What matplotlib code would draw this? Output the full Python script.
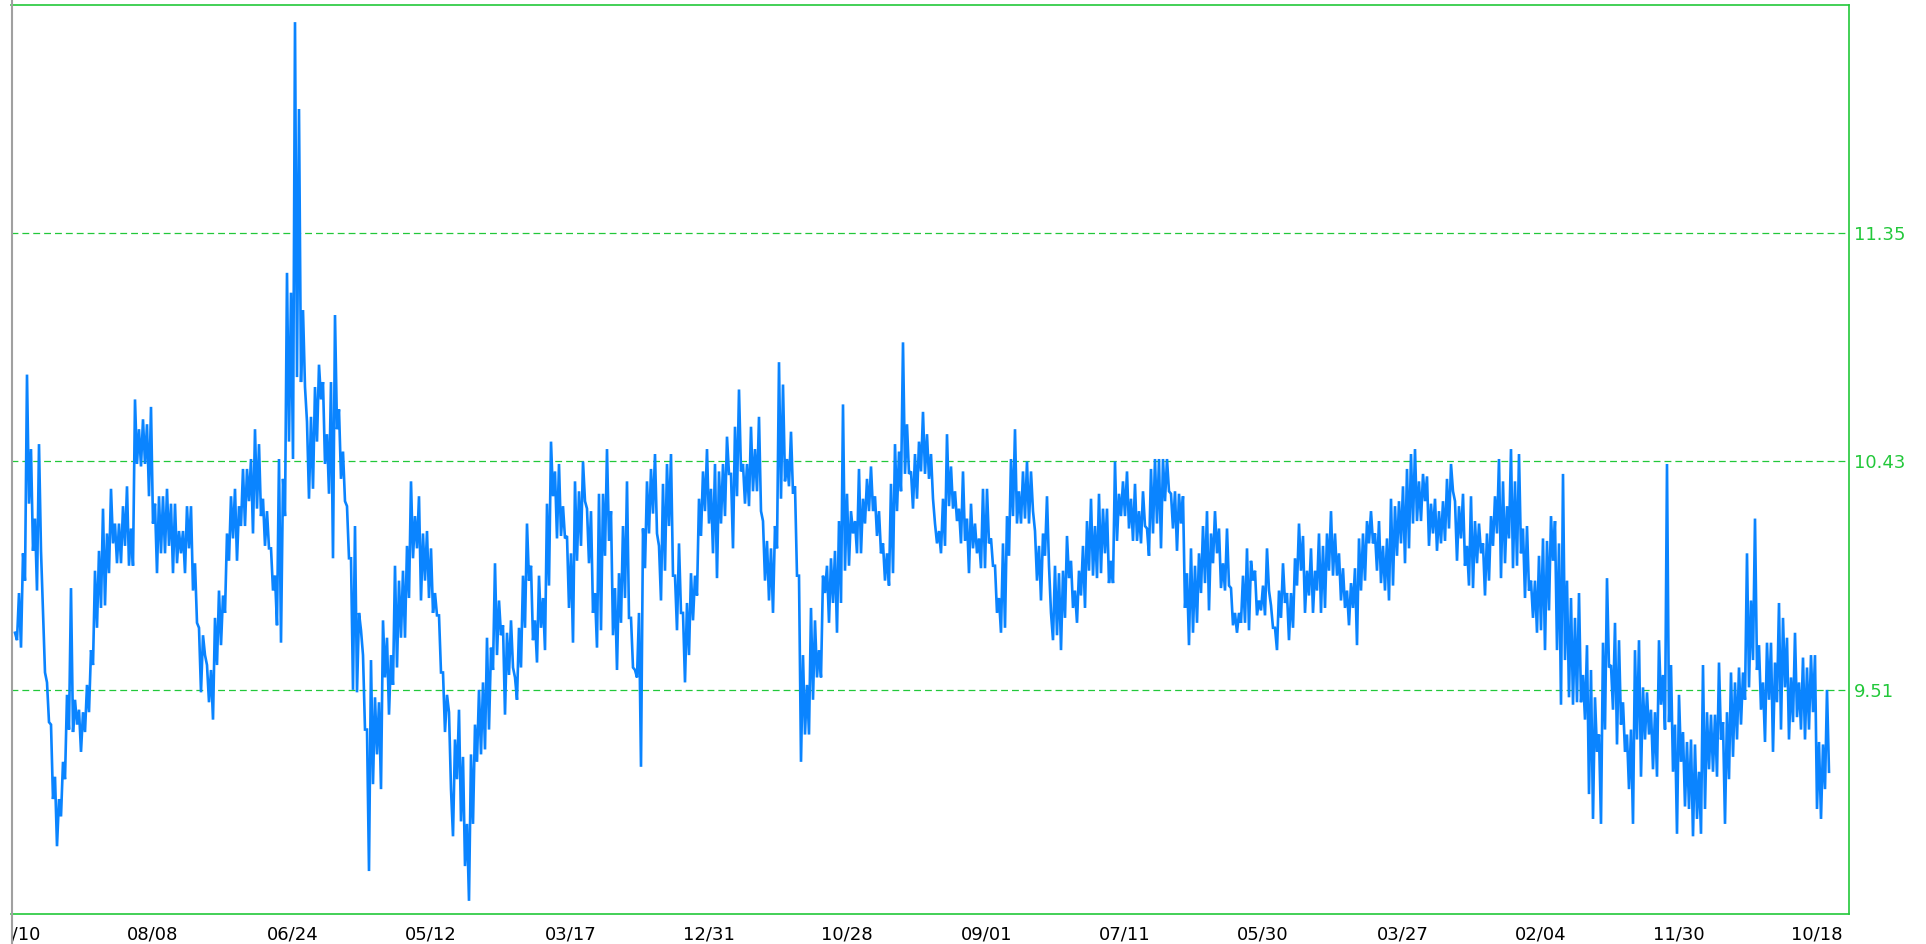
import numpy as np
import matplotlib
matplotlib.use("Agg")
import matplotlib.pyplot as plt
from matplotlib.transforms import Bbox
from matplotlib.lines import Line2D

# ---- data (each pair = high, low of a short interval) ----
values_seg1 = [
    9.74, 9.71, 9.90, 9.68, 10.06, 9.95, 10.78, 10.26, 10.48, 10.07, 10.20, 9.91, 10.50, 10.07, 9.82, 9.58, 9.54, 9.38, 9.37, 9.07,
    9.16, 8.88, 9.07, 9.00, 9.22, 9.15, 9.49, 9.35, 9.92, 9.34, 9.47, 9.37, 9.43, 9.26, 9.42, 9.34, 9.53, 9.42, 9.67, 9.61,
    9.99, 9.76, 10.07, 9.84, 10.24, 9.85, 10.14, 9.98, 10.32, 10.10, 10.18, 10.02, 10.18, 10.02, 10.25, 10.09, 10.33, 10.01, 10.16, 10.01,
    10.68, 10.42, 10.56, 10.41, 10.60, 10.42, 10.58, 10.29, 10.65, 10.18, 10.26, 9.98, 10.29, 10.06, 10.29, 10.06, 10.32, 10.09, 10.26, 9.98,
    10.26, 10.02, 10.15, 10.06, 10.15, 9.98, 10.25, 10.08, 10.25, 9.91, 10.02, 9.78, 9.76, 9.50, 9.73, 9.65, 9.61, 9.46, 9.59, 9.39,
    9.80, 9.61, 9.91, 9.69, 9.89, 9.82, 10.14, 10.03, 10.29, 10.12, 10.32, 10.03, 10.25, 10.17, 10.40, 10.17, 10.40, 10.27,
]
values_seg2 = [
    10.44, 10.14, 10.56, 10.24, 10.50, 10.21, 10.28, 10.09, 10.23, 10.08, 10.08, 9.91, 9.97, 9.77, 10.44, 9.70, 10.36, 10.21, 11.19, 10.51,
    11.11, 10.44, 12.20, 10.77, 11.85, 10.75, 11.04, 10.73, 10.59, 10.28, 10.61, 10.32, 10.73, 10.51, 10.82, 10.68, 10.75, 10.42, 10.54, 10.30,
    10.75, 10.04, 11.02, 10.56, 10.64, 10.36, 10.47, 10.27, 10.25, 10.04, 10.04, 9.51, 10.17, 9.50, 9.82, 9.75, 9.65, 9.35, 9.35, 8.78,
    9.63, 9.13, 9.48, 9.25, 9.46, 9.11, 9.79, 9.56, 9.72, 9.41, 9.65, 9.53, 10.01, 9.60, 9.95, 9.72, 9.99, 9.72, 10.09, 9.88,
    10.35, 10.04, 10.21, 10.08, 10.29, 9.87, 10.14, 9.95, 10.15, 9.88, 10.08, 9.82, 9.90, 9.81, 9.81, 9.58, 9.58, 9.34, 9.49, 9.42,
    9.11, 8.92, 9.31, 9.15, 9.43, 8.98, 9.24, 8.80, 8.97, 8.66, 9.25, 8.97, 9.37, 9.22, 9.51, 9.25,
]
values_seg3 = [
    9.54, 9.27, 9.72, 9.35, 9.68, 9.59, 10.02, 9.65, 9.87, 9.73, 9.77, 9.41, 9.74, 9.57, 9.79, 9.60, 9.56, 9.47, 9.76, 9.60,
    9.97, 9.76, 10.18, 9.95, 10.01, 9.71, 9.79, 9.62, 9.97, 9.76, 9.88, 9.67, 10.26, 9.93, 10.51, 10.29, 10.39, 10.12, 10.42, 10.13,
    10.25, 10.12, 10.13, 9.84, 10.06, 9.70, 10.35, 10.03, 10.31, 10.09, 10.43, 10.27, 10.24, 10.02, 10.23, 9.82, 9.90, 9.68, 10.30, 9.75,
    10.30, 10.05, 10.48, 10.11, 10.23, 9.73, 9.92, 9.59, 9.98, 9.78, 10.17, 9.88, 10.35, 9.80, 9.80, 9.60, 9.59, 9.56, 9.82, 9.20,
    10.16, 10.00, 10.35, 10.14, 10.40, 10.22, 10.46, 10.14, 10.09, 9.87, 10.34, 9.99, 10.42, 10.17, 10.46, 9.97, 9.97, 9.75, 10.10, 9.82,
    9.82, 9.54, 9.86, 9.65, 9.98, 9.79, 9.97, 9.89, 10.28, 10.13, 10.39, 10.23, 10.48, 10.18, 10.32, 10.06, 10.42, 9.96, 10.39, 10.18,
]
values_seg4 = [
    10.42, 10.21, 10.53, 10.38, 10.38, 10.08, 10.57, 10.29, 10.72, 10.39, 10.42, 10.26, 10.42, 10.25, 10.57, 10.31, 10.48, 10.31, 10.61, 10.23,
    10.19, 9.95, 10.11, 9.87, 10.08, 9.82, 10.17, 10.08, 10.83, 10.28, 10.74, 10.35, 10.44, 10.33, 10.55, 10.30, 10.33, 9.97, 9.97, 9.22,
    9.65, 9.33, 9.53, 9.33, 9.84, 9.47, 9.79, 9.56, 9.67, 9.56, 9.97, 9.90, 10.01, 9.78, 10.04, 9.86, 10.07, 9.74, 10.19, 9.86,
    10.66, 9.99, 10.30, 10.01, 10.23, 10.14, 10.19, 10.06, 10.40, 10.06, 10.28, 10.18, 10.36, 10.23, 10.41, 10.23, 10.29, 10.13, 10.23, 10.06,
    10.10, 9.95, 10.06, 9.93, 10.34, 9.98, 10.50, 10.23, 10.47, 10.31, 10.91, 10.38, 10.58, 10.38, 10.39, 10.24, 10.46, 10.28, 10.51, 10.39,
    10.63, 10.38, 10.54, 10.36, 10.46, 10.28, 10.18, 10.10, 10.15, 10.06, 10.28, 10.09, 10.54, 10.25, 10.41, 10.24, 10.31, 10.19, 10.24, 10.10,
]
values_seg5 = [
    10.39, 10.11, 10.20, 9.98, 10.26, 10.08, 10.18, 10.06, 10.12, 10.00, 10.32, 10.00, 10.32, 10.10, 10.12, 10.01, 10.01, 9.82, 9.88, 9.74,
    10.10, 9.76, 10.21, 10.05, 10.44, 10.21, 10.56, 10.18, 10.31, 10.18, 10.39, 10.20, 10.43, 10.18, 10.39, 10.23, 10.15, 9.95, 10.09, 9.87,
    10.14, 10.05, 10.29, 10.01, 9.82, 9.71, 10.01, 9.73, 9.98, 9.67, 9.99, 9.80, 10.13, 9.96, 10.03, 9.84, 9.91, 9.78, 9.99, 9.89,
    10.09, 9.84, 10.19, 9.99, 10.28, 9.97, 10.17, 9.96, 10.30, 9.98, 10.24, 10.06, 10.24, 9.94, 10.03, 9.94, 10.43, 10.11, 10.30, 10.21,
    10.35, 10.21, 10.39, 10.16, 10.28, 10.11, 10.34, 10.11, 10.23, 10.10, 10.31, 10.17, 10.16, 10.05, 10.40, 10.14, 10.44, 10.18, 10.44, 10.08,
    10.44, 10.27, 10.44, 10.31, 10.30, 10.16, 10.31, 10.07, 10.30, 10.18, 10.29, 9.84, 9.98, 9.69, 10.08, 9.74, 10.01, 9.78, 10.06, 9.90,
]
values_seg6 = [
    10.17, 9.94, 10.23, 9.83, 10.14, 10.02, 10.23, 10.06, 10.16, 9.92, 10.02, 9.91, 10.16, 9.93, 9.92, 9.77, 9.82, 9.74, 9.82, 9.78,
    9.97, 9.78, 10.08, 9.75, 10.03, 9.95, 9.99, 9.81, 9.87, 9.83, 9.93, 9.81, 10.08, 9.91, 9.85, 9.76, 9.76, 9.67, 9.91, 9.80,
    10.02, 9.86, 9.90, 9.71, 9.90, 9.76, 10.04, 9.93, 10.18, 9.99, 10.13, 9.82, 9.99, 9.89, 10.08, 9.82, 9.99, 9.91, 10.14, 9.82,
    10.09, 9.84, 10.14, 9.99, 10.23, 9.97, 10.14, 9.97, 10.06, 9.87, 10.00, 9.84, 9.91, 9.77, 9.94, 9.84, 10.00, 9.69, 10.12, 9.91,
    10.14, 9.95, 10.19, 10.10, 10.23, 10.10, 10.14, 9.99, 10.19, 9.94, 10.09, 9.91, 10.12, 9.87, 10.28, 9.93, 10.25, 10.05, 10.27, 10.10,
    10.33, 10.02, 10.40, 10.08, 10.46, 10.18, 10.48, 10.19, 10.35, 10.19, 10.38, 10.27, 10.37, 10.09, 10.26, 10.14, 10.28, 10.07, 10.23, 10.10,
]
values_seg7 = [
    10.27, 10.11, 10.36, 10.16, 10.42, 10.31, 10.27, 10.03, 10.25, 10.12, 10.30, 10.01, 10.09, 9.93, 10.29, 9.92, 10.19, 10.02, 10.18, 10.06,
    10.10, 9.89, 10.14, 9.95, 10.21, 10.09, 10.29, 10.14, 10.44, 9.96, 10.35, 10.02, 10.25, 10.12, 10.48, 10.00, 10.35, 10.01, 10.46, 10.06,
    10.16, 9.88, 10.17, 9.91, 9.95, 9.80, 9.95, 9.74, 10.05, 9.75, 10.12, 9.67, 10.11, 9.83, 10.21, 10.03, 10.19, 9.67, 10.10, 9.45,
    10.38, 9.63, 9.95, 9.48, 9.88, 9.45, 9.80, 9.46, 9.90, 9.46, 9.57, 9.39, 9.69, 9.09, 9.59, 8.99, 9.48, 9.26, 9.33, 8.97,
    9.70, 9.35, 9.96, 9.60, 9.61, 9.43, 9.78, 9.29, 9.71, 9.37, 9.46, 9.26, 9.33, 9.11, 9.35, 8.97, 9.67, 9.31, 9.71, 9.16,
    9.52, 9.31, 9.50, 9.33, 9.43, 9.19, 9.42, 9.16, 9.71, 9.45, 9.57, 9.35, 10.42, 9.38, 9.61, 9.18, 9.37, 8.93, 9.49, 9.22,
]
values_seg8 = [
    9.34, 9.04, 9.30, 9.03, 9.31, 8.92, 9.29, 8.99, 9.18, 8.93, 9.61, 9.03, 9.42, 9.19, 9.41, 9.18, 9.41, 9.16, 9.62, 9.31,
    9.38, 8.97, 9.42, 9.15, 9.58, 9.24, 9.54, 9.31, 9.60, 9.37, 9.58, 9.47, 10.06, 9.52, 9.87, 9.63, 10.20, 9.59, 9.69, 9.43,
    9.54, 9.30, 9.70, 9.47, 9.70, 9.26, 9.62, 9.46, 9.86, 9.35, 9.80, 9.52, 9.72, 9.31, 9.56, 9.38, 9.74, 9.40, 9.54, 9.35,
    9.64, 9.31, 9.60, 9.35, 9.65, 9.42, 9.65, 9.03, 9.30, 8.99, 9.29, 9.11, 9.51, 9.18,
]

grid_levels = [9.51, 10.43, 11.35]
tick_labels = ["10/10", "08/08", "06/24", "05/12", "03/17", "12/31", "10/28",
               "09/01", "07/11", "05/30", "03/27", "02/04", "11/30", "10/18"]
tick_index = [0, 69, 139, 208, 278, 347, 416, 486, 555, 624, 694, 763, 832, 901]

# ---- drawing ----
values = np.array(values_seg1 + values_seg2 + values_seg3 + values_seg4 +
                  values_seg5 + values_seg6 + values_seg7 + values_seg8)
x = np.arange(len(values))

W, H = 1926, 944
fig = plt.figure(figsize=(W / 100, H / 100), dpi=100)
fig.patch.set_facecolor("white")
ax = fig.add_axes([11 / W, (H - 914) / H, (1849 - 11) / W, (914 - 5) / H])
ax.set_facecolor("white")

green = "#22c83a"
blue = "#0a84ff"

ax.plot(x, values, color=blue, lw=1.9, solid_joinstyle="miter", zorder=3)

ax.set_xlim(-2, 917)
ax.set_ylim(8.607, 12.269)

for lv in grid_levels:
    ax.axhline(lv, color=green, lw=0.9, linestyle=(0, (5.5, 3.2)), zorder=1)

ax.yaxis.tick_right()
ax.set_yticks(grid_levels)
ax.set_yticklabels([f"{v:.2f}" for v in grid_levels])
ax.tick_params(axis="y", length=0, pad=3.5, labelsize=13, labelcolor=green)

ax.set_xticks(tick_index)
ax.set_xticklabels(tick_labels)
ax.tick_params(axis="x", length=0, pad=8, labelsize=13, labelcolor="black")

clip = Bbox.from_extents(11, 0, W, H)
for lbl in ax.get_xticklabels():
    lbl.set_clip_box(clip)
    lbl.set_clip_on(True)

for side in ["top", "bottom", "right"]:
    ax.spines[side].set_color(green)
    ax.spines[side].set_linewidth(1.2)
ax.spines["left"].set_visible(False)
fig.add_artist(Line2D([11.5 / W, 11.5 / W], [0, 1], color="#a0a0a0", lw=1.5,
                      transform=fig.transFigure))

fig.savefig("out.png", dpi=100, facecolor="white")
